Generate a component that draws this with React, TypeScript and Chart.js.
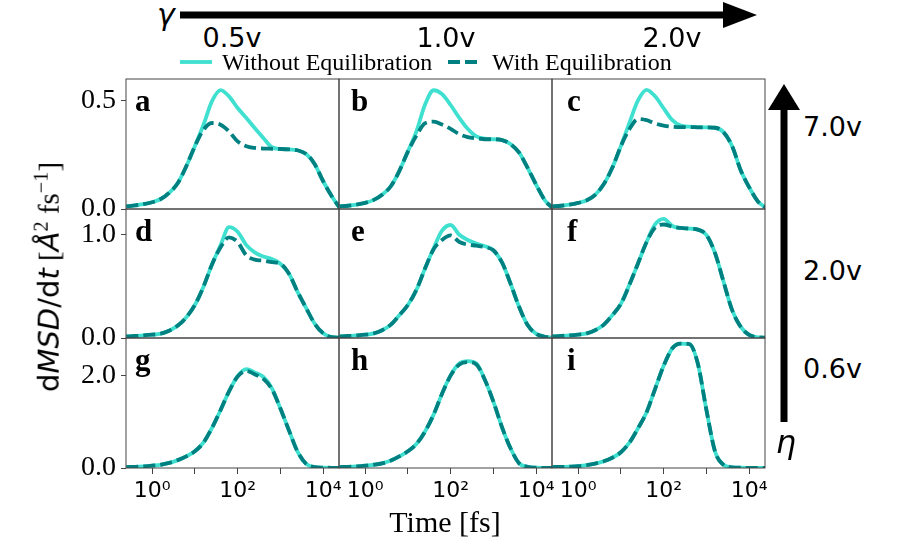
import { useEffect, useRef } from "react"
import Chart from "chart.js/auto"

// time grid in fs (log spaced, 5 points per decade)
const times = [0.25, 0.4, 0.63, 1, 1.6, 2.5, 4, 6.3, 10, 16, 25, 40, 63, 100, 160, 250, 400, 630, 1000, 1600, 2500, 4000, 6300, 10000, 16000, 25000]

// eta = 7.0v
const aWithout = [0.012, 0.017, 0.022, 0.031, 0.046, 0.074, 0.12, 0.197, 0.29, 0.39, 0.497, 0.549, 0.52, 0.466, 0.42, 0.374, 0.328, 0.285, 0.277, 0.275, 0.271, 0.254, 0.208, 0.128, 0.058, 0.002]
const aWith = [0.012, 0.017, 0.022, 0.031, 0.046, 0.074, 0.12, 0.197, 0.29, 0.366, 0.397, 0.389, 0.358, 0.312, 0.29, 0.282, 0.279, 0.278, 0.277, 0.275, 0.271, 0.254, 0.208, 0.128, 0.058, 0.002]
const bWithout = [0.012, 0.015, 0.02, 0.028, 0.042, 0.066, 0.105, 0.175, 0.265, 0.36, 0.48, 0.548, 0.53, 0.48, 0.42, 0.37, 0.335, 0.325, 0.322, 0.318, 0.3, 0.26, 0.19, 0.112, 0.04, 0.003]
const bWith = [0.012, 0.015, 0.02, 0.028, 0.042, 0.066, 0.105, 0.175, 0.265, 0.34, 0.395, 0.403, 0.39, 0.37, 0.345, 0.332, 0.326, 0.322, 0.322, 0.318, 0.3, 0.26, 0.19, 0.112, 0.04, 0.003]
const cWithout = [0.012, 0.015, 0.02, 0.028, 0.04, 0.065, 0.115, 0.19, 0.29, 0.4, 0.5, 0.55, 0.52, 0.465, 0.41, 0.385, 0.38, 0.378, 0.377, 0.375, 0.355, 0.29, 0.18, 0.1, 0.035, 0.005]
const cWith = [0.012, 0.015, 0.02, 0.028, 0.04, 0.065, 0.115, 0.19, 0.29, 0.37, 0.415, 0.41, 0.395, 0.385, 0.38, 0.378, 0.378, 0.377, 0.377, 0.375, 0.355, 0.29, 0.18, 0.1, 0.035, 0.005]

// eta = 2.0v
const dWithout = [0.015, 0.02, 0.025, 0.032, 0.042, 0.07, 0.12, 0.2, 0.32, 0.5, 0.71, 0.9, 1.075, 1.03, 0.9, 0.83, 0.79, 0.765, 0.72, 0.62, 0.45, 0.29, 0.14, 0.045, 0.008, 0.003]
const dWith = [0.015, 0.02, 0.025, 0.032, 0.042, 0.07, 0.12, 0.2, 0.32, 0.5, 0.71, 0.88, 0.975, 0.93, 0.8, 0.76, 0.75, 0.735, 0.72, 0.62, 0.45, 0.29, 0.14, 0.045, 0.008, 0.003]
const eWithout = [0.015, 0.02, 0.025, 0.032, 0.045, 0.075, 0.13, 0.22, 0.32, 0.47, 0.67, 0.87, 1.04, 1.095, 1.0, 0.95, 0.915, 0.89, 0.85, 0.73, 0.53, 0.3, 0.125, 0.04, 0.012, 0.003]
const eWith = [0.015, 0.02, 0.025, 0.032, 0.045, 0.075, 0.13, 0.22, 0.32, 0.47, 0.67, 0.86, 0.95, 0.995, 0.93, 0.905, 0.895, 0.88, 0.85, 0.73, 0.53, 0.3, 0.125, 0.04, 0.012, 0.003]
const fWithout = [0.015, 0.02, 0.025, 0.033, 0.045, 0.075, 0.13, 0.22, 0.33, 0.52, 0.72, 0.93, 1.1, 1.155, 1.085, 1.066, 1.06, 1.05, 1.0, 0.82, 0.55, 0.27, 0.11, 0.03, 0.006, 0.003]
const fWith = [0.015, 0.02, 0.025, 0.033, 0.045, 0.075, 0.13, 0.22, 0.33, 0.52, 0.72, 0.93, 1.07, 1.1, 1.08, 1.066, 1.06, 1.05, 1.0, 0.82, 0.55, 0.27, 0.11, 0.03, 0.006, 0.003]

// eta = 0.6v
const gWithout = [0.02, 0.025, 0.035, 0.05, 0.07, 0.11, 0.17, 0.25, 0.36, 0.55, 0.86, 1.25, 1.65, 1.98, 2.13, 2.06, 1.96, 1.72, 1.28, 0.8, 0.36, 0.09, 0.02, 0.008, 0.004, 0.003]
const gWith = [0.02, 0.025, 0.035, 0.05, 0.07, 0.11, 0.17, 0.25, 0.36, 0.55, 0.86, 1.25, 1.65, 1.97, 2.09, 2.02, 1.92, 1.7, 1.28, 0.8, 0.36, 0.09, 0.02, 0.008, 0.004, 0.003]
const hWithout = [0.02, 0.025, 0.035, 0.05, 0.07, 0.1, 0.16, 0.25, 0.36, 0.52, 0.78, 1.15, 1.6, 2.0, 2.25, 2.3, 2.25, 1.9, 1.43, 0.87, 0.43, 0.1, 0.025, 0.008, 0.004, 0.003]
const hWith = [0.02, 0.025, 0.035, 0.05, 0.07, 0.1, 0.16, 0.25, 0.36, 0.52, 0.78, 1.15, 1.6, 1.99, 2.23, 2.28, 2.23, 1.9, 1.43, 0.87, 0.43, 0.1, 0.025, 0.008, 0.004, 0.003]
const iWithout = [0.02, 0.024, 0.03, 0.04, 0.062, 0.095, 0.145, 0.22, 0.34, 0.55, 0.85, 1.2, 1.7, 2.2, 2.58, 2.68, 2.67, 2.25, 1.25, 0.35, 0.07, 0.015, 0.006, 0.004, 0.003, 0.003]
const iWith = [0.02, 0.024, 0.03, 0.04, 0.062, 0.095, 0.145, 0.22, 0.34, 0.55, 0.85, 1.2, 1.7, 2.2, 2.58, 2.68, 2.67, 2.25, 1.25, 0.35, 0.07, 0.015, 0.006, 0.004, 0.003, 0.003]

const panelLetters = ["a", "b", "c", "d", "e", "f", "g", "h", "i"]
const withoutSeries = [aWithout, bWithout, cWithout, dWithout, eWithout, fWithout, gWithout, hWithout, iWithout]
const withSeries = [aWith, bWith, cWith, dWith, eWith, fWith, gWith, hWith, iWith]

const rowYMax = [0.6, 1.25, 2.8]
const rowYTick = [0.5, 1.0, 2.0]
const xTickValues = [1, 10, 100, 1000, 10000]
const xTickLabels = ["10⁰", "", "10²", "", "10⁴"]
const gammaLabels = ["0.5v", "1.0v", "2.0v"]
const etaLabels = ["7.0v", "2.0v", "0.6v"]

const SERIF = '"Liberation Serif", "Times New Roman", serif'
const SANS = '"DejaVu Sans", sans-serif'
const LIGHT = "#40e0d0"
const DARK = "#008080"
const FRAME = "#444"

// layout of the 3x3 grid (px)
const PW = 213
const colLefts = [126, 339, 552]
const rowTops = [79, 209, 338]
const rowHeights = [130, 129, 130]
const PAD = 24
const AXIS_W = 90
const AXIS_H = 46

function Panel({ idx }: { idx: number }) {
  const canvasRef = useRef<HTMLCanvasElement>(null)
  const row = Math.floor(idx / 3)
  const col = idx % 3
  const isLeft = col === 0
  const isBottom = row === 2
  const padLeft = isLeft ? AXIS_W : PAD
  const padBottom = isBottom ? AXIS_H : PAD
  const width = PW + padLeft + PAD
  const height = rowHeights[row] + PAD + padBottom

  useEffect(() => {
    if (!canvasRef.current) return
    const letter = panelLetters[idx]
    const framePlugin = {
      id: "frame",
      afterDatasetsDraw(chart: any) {
        const { ctx, chartArea } = chart
        ctx.save()
        ctx.strokeStyle = FRAME
        ctx.lineWidth = 1
        ctx.strokeRect(chartArea.left, chartArea.top, chartArea.right - chartArea.left, chartArea.bottom - chartArea.top)
        ctx.fillStyle = "#000"
        ctx.font = `bold 31px ${SERIF}`
        ctx.textBaseline = "alphabetic"
        ctx.fillText(letter, chartArea.left + 9 + 3 * col, chartArea.top + 32)
        ctx.restore()
      },
    }

    const chart = new Chart(canvasRef.current, {
      type: "line",
      data: {
        datasets: [
          {
            label: "Without Equilibration",
            data: times.map((t, i) => ({ x: t, y: withoutSeries[idx][i] })),
            borderColor: LIGHT,
            borderWidth: 3.8,
            pointRadius: 0,
            cubicInterpolationMode: "monotone",
            order: 2,
          },
          {
            label: "With Equilibration",
            data: times.map((t, i) => ({ x: t, y: withSeries[idx][i] })),
            borderColor: DARK,
            borderWidth: 3.8,
            borderDash: [12, 5],
            pointRadius: 0,
            cubicInterpolationMode: "monotone",
            order: 1,
          },
        ],
      },
      options: {
        animation: false,
        responsive: false,
        events: [],
        layout: {
          padding: { top: PAD, right: PAD, left: isLeft ? 0 : PAD, bottom: isBottom ? 0 : PAD },
        },
        plugins: { legend: { display: false }, tooltip: { enabled: false } },
        scales: {
          x: {
            type: "logarithmic",
            min: 0.2455,
            max: 23440,
            display: isBottom,
            afterBuildTicks: (s: any) => {
              s.ticks = xTickValues.map((v) => ({ value: v }))
            },
            afterFit: (s: any) => {
              if (isBottom) s.height = AXIS_H
            },
            ticks: {
              autoSkip: false,
              maxRotation: 0,
              padding: 4,
              color: "#000",
              font: { family: SANS, size: 22 },
              callback: (_v: any, i: number) => xTickLabels[i],
            },
            grid: { drawOnChartArea: false, drawTicks: true, tickLength: 6, color: FRAME },
            border: { display: false },
          },
          y: {
            min: 0,
            max: rowYMax[row],
            display: isLeft,
            afterBuildTicks: (s: any) => {
              s.ticks = [{ value: 0 }, { value: rowYTick[row] }]
            },
            afterFit: (s: any) => {
              if (isLeft) s.width = AXIS_W
            },
            ticks: {
              padding: 5,
              color: "#000",
              font: { family: SERIF, size: 28 },
              callback: (v: any) => Number(v).toFixed(1),
            },
            grid: { drawOnChartArea: false, drawTicks: true, tickLength: 5, color: FRAME },
            border: { display: false },
          },
        },
      },
      plugins: [framePlugin],
    } as any)

    return () => chart.destroy()
  }, [idx])

  return (
    <canvas
      ref={canvasRef}
      width={width}
      height={height}
      style={{ position: "absolute", left: colLefts[col] - padLeft, top: rowTops[row] - PAD, width, height }}
    />
  )
}

function Label({ x, y, children, style = {} }: { x: number; y: number; children: any; style?: any }) {
  return (
    <div
      style={{
        position: "absolute",
        left: x,
        top: y,
        transform: "translate(-50%, -50%)",
        whiteSpace: "nowrap",
        lineHeight: 1,
        color: "#000",
        ...style,
      }}
    >
      {children}
    </div>
  )
}

export default function App() {
  return (
    <div style={{ position: "absolute", left: 0, top: 0, width: 900, height: 559, background: "#fff", overflow: "hidden" }}>
      <svg width={900} height={559} style={{ position: "absolute", left: 0, top: 0 }}>
        {/* gamma arrow */}
        <line x1={180} y1={15} x2={726} y2={15} stroke="#000" strokeWidth={7} />
        <polygon points="723,2 757,15 723,28" fill="#000" />
        {/* eta arrow */}
        <line x1={784} y1={422} x2={784} y2={106} stroke="#000" strokeWidth={7} />
        <polygon points="768,110 784,84 800,110" fill="#000" />
        {/* legend samples */}
        <line x1={180} y1={62} x2={212} y2={62} stroke={LIGHT} strokeWidth={3.8} />
        <line x1={448} y1={62} x2={482} y2={62} stroke={DARK} strokeWidth={3.8} strokeDasharray="12 5" />
      </svg>

      {panelLetters.map((_, i) => (
        <Panel key={i} idx={i} />
      ))}

      <Label x={166} y={15} style={{ fontFamily: SANS, fontStyle: "italic", fontSize: 30 }}>γ</Label>
      <Label x={232} y={37} style={{ fontFamily: SANS, fontSize: 27 }}>{gammaLabels[0]}</Label>
      <Label x={446} y={37} style={{ fontFamily: SANS, fontSize: 27 }}>{gammaLabels[1]}</Label>
      <Label x={672} y={37} style={{ fontFamily: SANS, fontSize: 27 }}>{gammaLabels[2]}</Label>

      <div style={{ position: "absolute", left: 222, top: 50, fontFamily: SERIF, fontSize: 24, lineHeight: 1, whiteSpace: "nowrap" }}>
        Without Equilibration
      </div>
      <div style={{ position: "absolute", left: 492, top: 50, fontFamily: SERIF, fontSize: 24, lineHeight: 1, whiteSpace: "nowrap" }}>
        With Equilibration
      </div>

      <div style={{ position: "absolute", left: 803, top: 126, transform: "translateY(-50%)", fontFamily: SANS, fontSize: 27, lineHeight: 1 }}>{etaLabels[0]}</div>
      <div style={{ position: "absolute", left: 803, top: 270, transform: "translateY(-50%)", fontFamily: SANS, fontSize: 27, lineHeight: 1 }}>{etaLabels[1]}</div>
      <div style={{ position: "absolute", left: 803, top: 368, transform: "translateY(-50%)", fontFamily: SANS, fontSize: 27, lineHeight: 1 }}>{etaLabels[2]}</div>
      <Label x={786} y={442} style={{ fontFamily: SANS, fontStyle: "italic", fontSize: 32 }}>η</Label>

      <Label x={445} y={522} style={{ fontFamily: SERIF, fontSize: 30 }}>Time [fs]</Label>

      <div
        style={{
          position: "absolute",
          left: 47,
          top: 277,
          transform: "translate(-50%, -50%) rotate(-90deg)",
          whiteSpace: "nowrap",
          fontFamily: SERIF,
          fontSize: 29,
          lineHeight: 1,
        }}
      >
        <span style={{ fontFamily: SANS }}>
          d<i>MSD</i>/d<i>t</i>
        </span>{" "}
        [<i style={{ fontFamily: SANS }}>Å</i>
        <sup style={{ fontSize: "0.7em" }}>2</sup> fs<sup style={{ fontSize: "0.7em" }}>−1</sup>]
      </div>
    </div>
  )
}
